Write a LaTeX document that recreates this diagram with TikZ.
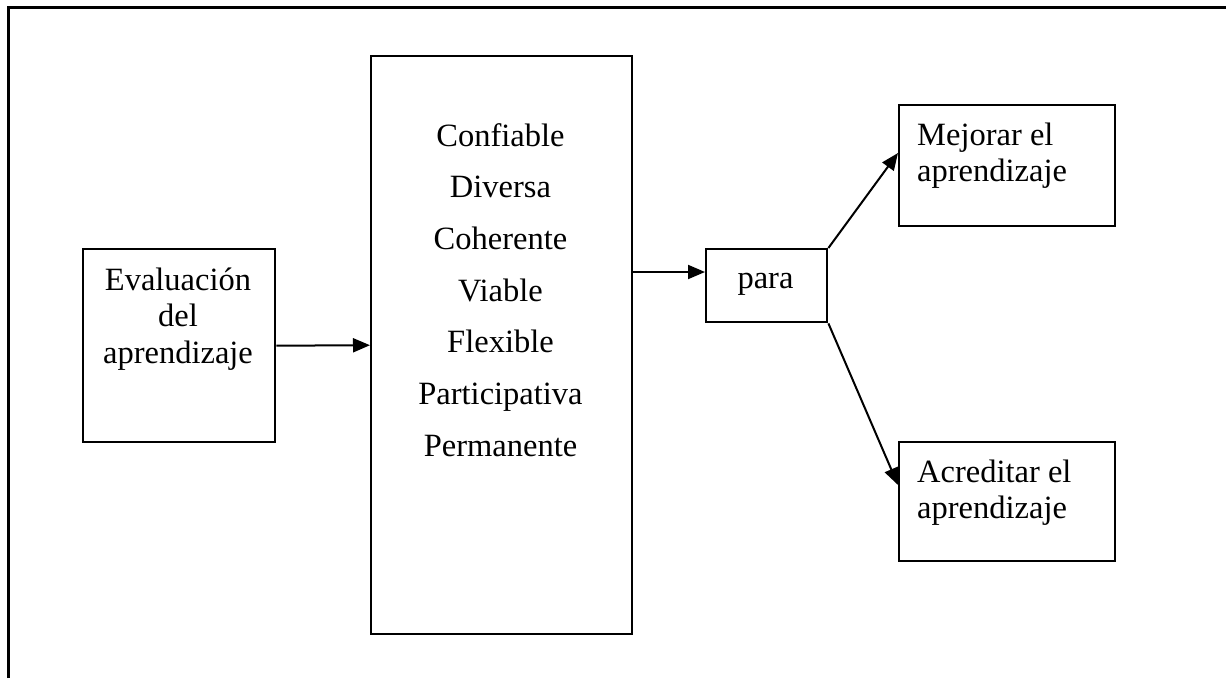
\documentclass[tikz,border=0pt]{standalone}
\usepackage{fontspec}
\setmainfont{Liberation Serif}
\usetikzlibrary{arrows.meta}
\begin{document}
\begin{tikzpicture}[x=1pt,y=-1pt,
  box/.style={draw,line width=2.4pt,inner sep=0pt,anchor=north west},
  txt/.style={inner sep=0pt,font=\fontsize{32.5}{36.7}\selectfont},
  link/.style={line width=2pt,-{Triangle[length=17pt,width=14pt]}}]
\useasboundingbox (0,0) rectangle (1227,678);
% open frame: top and left edges only
\draw[line width=3pt] (8,678) -- (8,7) -- (1226,7);

% boxes
\node[box,minimum width=192pt,minimum height=193pt] (eval) at (82,248) {};
\node[box,minimum width=261pt,minimum height=578pt] (mid) at (370,55) {};
\node[box,minimum width=121pt,minimum height=73pt] (para) at (705,248) {};
\node[box,minimum width=216pt,minimum height=121pt] (mej) at (898,104) {};
\node[box,minimum width=216pt,minimum height=119pt] (acr) at (898,441) {};

% texts (base anchor of a multi-line node sits on its last line)
\node[txt,anchor=base,align=center] (evaltxt) at (178,363.4) {Evaluación\\del\\aprendizaje};
\foreach \w [count=\i from 0] in {Confiable,Diversa,Coherente,Viable,Flexible,Participativa,Permanente}
  \node[txt,anchor=base] (q\i) at (500.5,146+51.67*\i) {\w};
\node[txt,anchor=base] (paratxt) at (765.5,288) {para};
\node[txt,anchor=base west,align=left] (mejtxt) at (917,181.7) {Mejorar el\\aprendizaje};
\node[txt,anchor=base west,align=left] (acrtxt) at (917,518.7) {Acreditar el\\aprendizaje};

% connectors
\draw[link] (eval.east) -- (mid.west);
\draw[link] (mid.east |- 0,272) -- (para.west |- 0,272);
\draw[link] (para.north east) -- (mej.west |- 0,153);
\draw[link] (para.south east) -- (acr.west |- 0,485);
\end{tikzpicture}
\end{document}
